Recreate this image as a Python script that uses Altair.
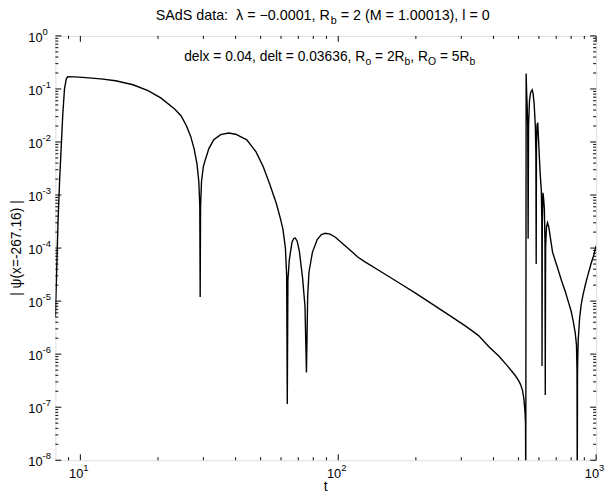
import altair as alt
import pandas as pd

# ---------------- data ----------------
t_vals = [8.0, 8.19, 8.31, 8.55, 8.68, 8.82, 8.94, 9.5, 10.2, 12.0, 13.7, 16.0, 18.3, 20.5,
          23.2, 24.6, 25.8, 26.8, 27.6, 28.3, 28.8, 29.05, 29.15, 29.25, 29.5, 30.0, 30.6,
          31.5, 32.9, 35.0, 37.6, 40.0, 44.2, 48.0, 51.1, 54.0, 57.5, 59.5, 61.0, 62.4,
          63.1, 63.45, 63.8, 64.6, 66.2, 67.2, 68.1, 69.3, 70.6, 72.7, 74.3, 75.3, 76.1,
          77.0, 79.4, 82.9, 86.0, 89.1, 93.0, 97.5, 106.0, 113.0, 119.0, 127.0, 145.0,
          175.0, 200.0, 234.0, 270.0, 314.0, 350.0, 384.0, 420.0, 453.0, 485.0, 500.0,
          509.0, 518.0, 525.0, 530.0, 532.4, 533.6, 535.4, 538.0, 540.0, 543.0, 545.0,
          547.0, 551.6, 557.0, 565.0, 570.0, 575.0, 581.0, 584.0, 585.6, 587.0, 590.0,
          594.0, 599.0, 604.0, 608.0, 613.0, 616.0, 617.0, 618.5, 622.0, 626.0, 630.0,
          633.5, 635.0, 637.0, 642.0, 648.0, 655.0, 663.0, 678.0, 704.0, 735.0, 760.0,
          780.0, 800.0, 815.0, 830.0, 839.0, 843.0, 845.0, 847.0, 852.0, 863.0, 875.0,
          889.0, 910.0, 929.0, 955.0, 979.0, 1000.0]
psi_vals = [5e-6, 3e-4, 1.9e-3, 0.034, 0.1, 0.155, 0.17, 0.169, 0.165, 0.155, 0.143, 0.12,
            0.093, 0.068, 0.042, 0.031, 0.02, 0.0126, 0.0075, 0.004, 0.0018, 0.0006, 1.2e-5,
            6e-4, 0.0018, 0.0035, 0.0048, 0.0075, 0.011, 0.0138, 0.0148, 0.014, 0.011,
            0.0065, 0.0035, 0.0017, 7e-4, 3.8e-4, 2.3e-4, 1e-4, 3e-5, 1.15e-7, 2.5e-5, 6e-5,
            1.3e-4, 1.5e-4, 1.55e-4, 1.35e-4, 9e-5, 2.8e-5, 8e-6, 4.5e-7, 1.2e-5, 3.5e-5,
            8.3e-5, 1.45e-4, 1.8e-4, 1.9e-4, 1.83e-4, 1.6e-4, 1.12e-4, 8.5e-5, 6.8e-5,
            5.5e-5, 3.7e-5, 2.1e-5, 1.4e-5, 8.5e-6, 5.4e-6, 3.3e-6, 2.24e-6, 1.38e-6,
            9.1e-7, 6e-7, 4e-7, 3.2e-7, 2.7e-7, 2.1e-7, 1.4e-7, 8e-8, 5e-8, 2e-9, 0.196,
            0.08, 0.052, 0.02, 1.5e-4, 0.02, 0.06, 0.085, 0.096, 0.08, 0.052, 0.021, 0.006,
            5e-5, 0.008, 0.021, 0.023, 9.3e-3, 4e-3, 2.2e-3, 1.25e-3, 3e-4, 6e-7, 3e-4,
            1.1e-3, 8.5e-4, 5.4e-4, 1.2e-4, 1.7e-7, 1e-4, 2.5e-4, 3e-4, 2.5e-4, 1.7e-4,
            8.3e-5, 4.7e-5, 2.4e-5, 1.5e-5, 9.8e-6, 6.5e-6, 4.2e-6, 2.5e-6, 1.5e-6, 5e-7,
            2e-9, 5e-7, 1.8e-6, 4.8e-6, 8.5e-6, 1.3e-5, 2.1e-5, 3.1e-5, 5e-5, 7.3e-5, 1.1e-4]

x_major = [10, 100, 1000]
x_major_exp = ["1", "2", "3"]
x_minor = [9, 20, 30, 40, 50, 60, 70, 80, 90, 200, 300, 400, 500, 600, 700, 800, 900]

y_major = [1e-8, 1e-7, 1e-6, 1e-5, 1e-4, 1e-3, 1e-2, 1e-1, 1.0]
y_major_exp = ["-8", "-7", "-6", "-5", "-4", "-3", "-2", "-1", "0"]
y_minor_mantissas = [2, 3, 4, 5, 6, 7, 8, 9]

title_segments = [("SAdS data:  λ = −0.0001, R", False), ("b", True),
                  (" = 2 (M = 1.00013), l = 0", False)]
note_segments = [("delx = 0.04, delt = 0.03636, R", False), ("o", True), (" = 2R", False),
                 ("b", True), (", R", False), ("O", True), (" = 5R", False), ("b", True)]
x_title = "t"
y_title = "| ψ(x=-267.16) |"

# ---------------- layout ----------------
W, H = 548, 430
FONT = "Liberation Sans"
MAJ, MIN = 6, 3
NB = "\u00a0"

df = pd.DataFrame({"t": t_vals, "psi": psi_vals})
xscale = alt.Scale(type="log", domain=[8, 1000], nice=False)
yscale = alt.Scale(type="log", domain=[1e-8, 1], nice=False)

line = alt.Chart(df).mark_line(color="black", strokeWidth=1.4, clip=True).encode(
    x=alt.X("t:Q", scale=xscale, axis=None),
    y=alt.Y("psi:Q", scale=yscale, axis=None),
)

y_minor = [m * v for v in y_major[:-1] for m in y_minor_mantissas]
dfy_maj = pd.DataFrame({"psi": y_major, "base": ["10"] * len(y_major), "exp": y_major_exp})
dfy_min = pd.DataFrame({"psi": y_minor})
dfx_maj = pd.DataFrame({"t": x_major, "base": ["10"] * len(x_major), "exp": x_major_exp})
dfx_min = pd.DataFrame({"t": x_minor})


def yticks(d, length, side):
    x0, x1 = (0, length) if side == "left" else (W - length, W)
    return alt.Chart(d).mark_rule(color="black", strokeWidth=1).encode(
        y=alt.Y("psi:Q", scale=yscale, axis=None), x=alt.value(x0), x2=alt.value(x1))


def xticks(d, length, side):
    y0, y1 = (H - length, H) if side == "bottom" else (0, length)
    return alt.Chart(d).mark_rule(color="black", strokeWidth=1).encode(
        x=alt.X("t:Q", scale=xscale, axis=None), y=alt.value(y0), y2=alt.value(y1))


ticks = [yticks(dfy_maj, MAJ, "left"), yticks(dfy_maj, MAJ, "right"),
         yticks(dfy_min, MIN, "left"), yticks(dfy_min, MIN, "right"),
         xticks(dfx_maj, MAJ, "bottom"), xticks(dfx_maj, MAJ, "top"),
         xticks(dfx_min, MIN, "bottom"), xticks(dfx_min, MIN, "top")]

LAB, SUP = 13, 9.5
ylab_base = alt.Chart(dfy_maj).mark_text(
    align="right", baseline="middle", font=FONT, fontSize=LAB, color="black", dy=2).encode(
    y=alt.Y("psi:Q", scale=yscale, axis=None), x=alt.value(-13), text="base:N")
ylab_exp = alt.Chart(dfy_maj).mark_text(
    align="left", baseline="middle", font=FONT, fontSize=SUP, color="black", dy=-4).encode(
    y=alt.Y("psi:Q", scale=yscale, axis=None), x=alt.value(-13), text="exp:N")
xlab_base = alt.Chart(dfx_maj).mark_text(
    align="right", baseline="middle", font=FONT, fontSize=LAB, color="black", dx=3).encode(
    x=alt.X("t:Q", scale=xscale, axis=None), y=alt.value(H + 14), text="base:N")
xlab_exp = alt.Chart(dfx_maj).mark_text(
    align="left", baseline="middle", font=FONT, fontSize=SUP, color="black", dx=3).encode(
    x=alt.X("t:Q", scale=xscale, axis=None), y=alt.value(H + 8), text="exp:N")

one = pd.DataFrame({"k": [0]})
xtitle = alt.Chart(one).mark_text(
    align="center", baseline="middle", font=FONT, fontSize=14, color="black").encode(
    x=alt.value(W / 2), y=alt.value(H + 27), text=alt.value(x_title))
ytitle = alt.Chart(one).mark_text(
    align="center", baseline="middle", font=FONT, fontSize=14, color="black",
    angle=270).encode(x=alt.value(-39), y=alt.value(H / 2), text=alt.value(y_title))

WIDTHS = {' ': 278, '(': 333, ')': 333, ',': 278, '-': 333, '.': 278, ':': 278, '=': 584,
          'A': 667, 'M': 833, 'O': 778, 'R': 722, 'S': 667, 'a': 556, 'b': 556, 'd': 556,
          'e': 556, 'l': 222, 't': 278, 'x': 500, 'o': 556, 'λ': 556, '−': 584}


def tw(s, size):
    return sum(WIDTHS.get(c, 556) for c in s) * size / 1000.0


def text_line(segments, size, baseline, cx):
    sub = size * 0.75
    total = sum(tw(s, sub if is_sub else size) for s, is_sub in segments)
    x = cx - total / 2
    layers = []
    for s, is_sub in segments:
        fs = sub if is_sub else size
        lead = len(s) - len(s.lstrip(" "))
        x += tw(" " * lead, fs)
        body = s.lstrip(" ")
        y = baseline + (size * 0.3 if is_sub else 0)
        layers.append(alt.Chart(one).mark_text(
            align="left", baseline="alphabetic", font=FONT, fontSize=fs,
            color="black").encode(x=alt.value(x), y=alt.value(y),
                                  text=alt.value(body.replace(" ", NB))))
        x += tw(body, fs)
    return layers


texts = text_line(title_segments, 14.5, -16, W / 2 - 3) + \
    text_line(note_segments, 14, 25, W / 2 + 4)

chart = alt.layer(line, *ticks, ylab_base, ylab_exp, xlab_base, xlab_exp, xtitle, ytitle,
                  *texts).properties(
    width=W, height=H,
    padding={"left": 48, "top": 25, "right": 9, "bottom": 36},
    autosize=alt.AutoSizeParams(type="none"),
).configure_view(stroke="black", strokeWidth=1).configure(background="white")

chart.save("out.html", embed_options={"renderer": "svg", "actions": False})
